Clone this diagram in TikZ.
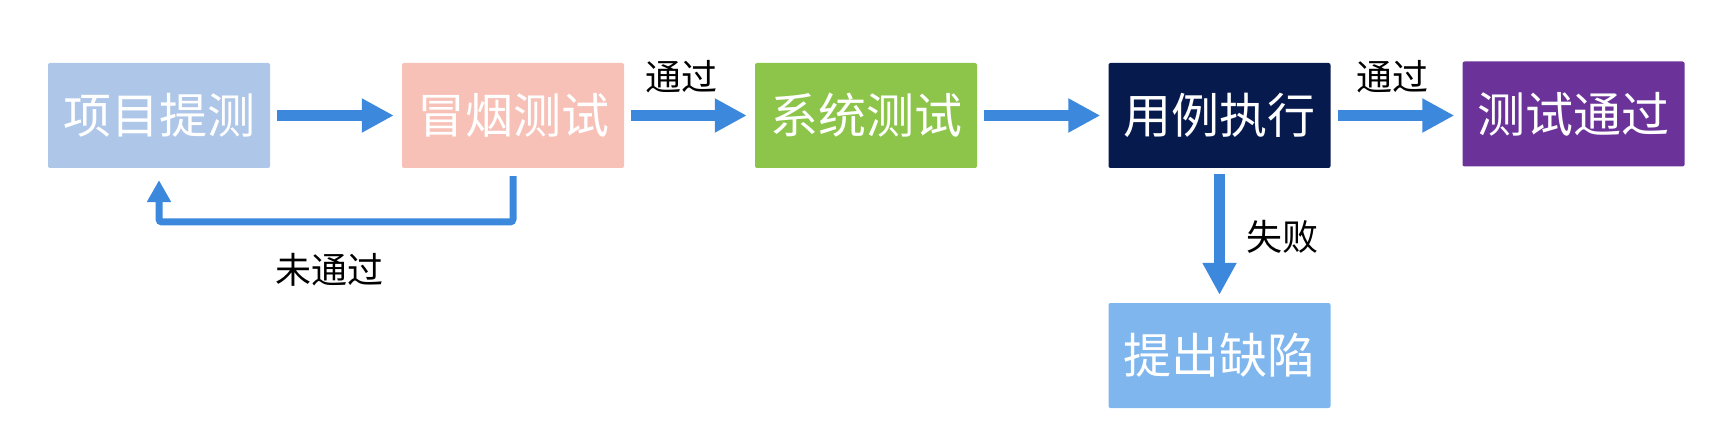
\documentclass[tikz,border=0pt]{standalone}
\usepackage{fontspec}
\setmainfont{Noto Sans CJK SC}
\usetikzlibrary{arrows.meta}
\definecolor{cA}{HTML}{AEC6E8}
\definecolor{cB}{HTML}{F8C1B8}
\definecolor{cC}{HTML}{8CC54A}
\definecolor{cD}{HTML}{061A4E}
\definecolor{cE}{HTML}{6B3399}
\definecolor{cF}{HTML}{80B6EE}
\definecolor{arr}{HTML}{3B88DD}
\tikzset{
  box/.style={minimum width=222pt, minimum height=105pt, inner sep=0pt,
    rounded corners=2pt, text=white, font=\fontsize{48}{48}\selectfont},
  lab/.style={inner sep=0pt, text=black, font=\fontsize{36}{36}\selectfont},
  flow/.style={draw=arr, line width=11pt, -{Triangle[length=32pt,width=32pt]},
    shorten <=7pt, shorten >=8pt},
  back/.style={draw=arr, line width=7pt, rounded corners=3pt,
    -{Triangle[length=22pt,width=23pt]}}
}
\begin{document}
\begin{tikzpicture}[x=1pt,y=-1pt]
\useasboundingbox (0,0) rectangle (1718,438);
\node[box, fill=cA] (a) at (159,115.5) {项目提测};
\node[box, fill=cB] (b) at (513,115.5) {冒烟测试};
\node[box, fill=cC] (c) at (866,115.5) {系统测试};
\node[box, fill=cD] (d) at (1219.5,115.5) {用例执行};
\node[box, fill=cE] (e) at (1573.5,114) {测试通过};
\node[box, fill=cF] (f) at (1219.5,355.5) {提出缺陷};
\draw[flow] (a) -- (b);
\draw[flow] (b) -- (c);
\draw[flow] (c) -- (d);
\draw[flow] (d.east) -- (d.east -| e.west);
\draw[flow, shorten <=6pt] (d) -- (f);
\coordinate (k1) at (513,222);
\coordinate (k2) at (159,222);
\draw[back] ([yshift=-8pt]b.south) -- (k1) -- (k2) -- ([yshift=-12pt]a.south);
\node[lab] (l1) at (681,77) {通过};
\node[lab] (l2) at (1392,77) {通过};
\node[lab] (l3) at (329,270) {未通过};
\node[lab] (l4) at (1282,237) {失败};
\end{tikzpicture}
\end{document}
